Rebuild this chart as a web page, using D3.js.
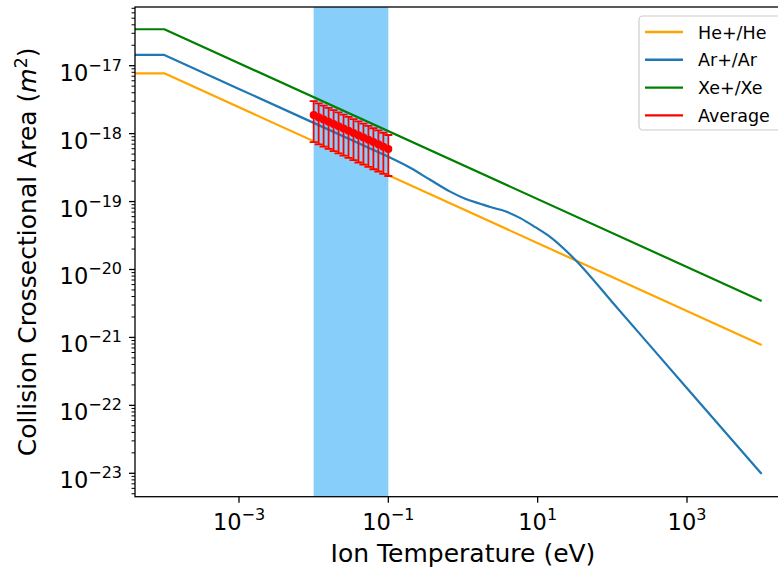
<!DOCTYPE html>
<html><head><meta charset="utf-8">
<script src="https://cdn.jsdelivr.net/npm/d3@7"></script>
<style>body{margin:0;background:#fff}svg{display:block}text{font-family:"DejaVu Sans",sans-serif}</style>
</head><body><svg id="c" width="778" height="573"></svg>
<script>
// ---- data ----
const heT     = [1e-5, 1e-4, 1e4];
const heSigma = [7.73e-18, 7.73e-18, 7.73e-22];
const xeT     = [1e-5, 1e-4, 1e4];
const xeSigma = [3.44e-17, 3.44e-17, 3.44e-21];
const arT     = [1e-5, 1e-4, 1e-3, 0.01, 0.05, 0.1, 0.196, 0.363, 0.673, 1.07, 1.70, 2.32, 3.68, 5.85, 9.29, 14.8, 23.4, 34, 100, 1000, 1e4];
const arSigma = [1.44e-17, 1.44e-17, 4.55e-18, 1.44e-18, 6.44e-19, 4.55e-19, 3.14e-19, 2.09e-19, 1.40e-19, 1.10e-19, 9.3e-20, 8.3e-20, 7.2e-20, 5.7e-20, 4.2e-20, 3.0e-20, 1.94e-20, 1.29e-20, 3.3e-21, 1.79e-22, 9.8e-24];
const avgT    = [0.01, 0.01166, 0.01359, 0.01585, 0.01848, 0.02154, 0.02512, 0.02929, 0.03415, 0.03981, 0.04642, 0.05412, 0.06310, 0.07356, 0.08577, 0.1];
const avgSigma= [1.884e-18, 1.745e-18, 1.616e-18, 1.496e-18, 1.386e-18, 1.284e-18, 1.189e-18, 1.101e-18, 1.020e-18, 0.944e-18, 0.875e-18, 0.810e-18, 0.750e-18, 0.695e-18, 0.643e-18, 0.596e-18];
const avgErr  = [1.133e-18, 1.049e-18, 0.972e-18, 0.900e-18, 0.833e-18, 0.772e-18, 0.715e-18, 0.662e-18, 0.613e-18, 0.568e-18, 0.526e-18, 0.487e-18, 0.451e-18, 0.418e-18, 0.387e-18, 0.358e-18];
const spanT   = [0.01, 0.1];
const xTicks  = [1e-3, 1e-1, 1e1, 1e3];
const xTickExp= ["−3", "−1", "1", "3"];
const yTicks  = [1e-17, 1e-18, 1e-19, 1e-20, 1e-21, 1e-22, 1e-23];
const yTickExp= ["−17", "−18", "−19", "−20", "−21", "−22", "−23"];
const seriesNames  = ["He+/He", "Ar+/Ar", "Xe+/Xe", "Average"];
const seriesColors = ["#ffa500", "#1f77b4", "#008000", "#ff0000"];

// ---- layout ----
const L = 135, R = 791, T = 7, B = 496.7;
const x = d3.scaleLog().domain([Math.pow(10, -4.3929), Math.pow(10, 4.3929)]).range([L, R]);
const y = d3.scaleLog().domain([Math.pow(10, -23.3445), Math.pow(10, -16.1359)]).range([B, T]);

const svg = d3.select("#c");
svg.append("defs").append("clipPath").attr("id", "clip")
  .append("rect").attr("x", L).attr("y", T).attr("width", R - L).attr("height", B - T);
const g = svg.append("g").attr("clip-path", "url(#clip)");

// shaded span
g.append("rect").attr("x", x(spanT[0])).attr("width", x(spanT[1]) - x(spanT[0]))
  .attr("y", T).attr("height", B - T).attr("fill", "#87cefa");

const lineLin = d3.line().x(d => x(d[0])).y(d => y(d[1])).curve(d3.curveLinear);
const lineSmooth = d3.line().x(d => x(d[0])).y(d => y(d[1])).curve(d3.curveMonotoneX);
const pts = (ts, ss) => ts.map((t, j) => [t, ss[j]]);

[[heT, heSigma, 0], [xeT, xeSigma, 2]].forEach(s => {
  g.append("path").attr("d", lineLin(pts(s[0], s[1]))).attr("fill", "none")
    .attr("stroke", seriesColors[s[2]]).attr("stroke-width", 2.2).attr("stroke-linejoin", "round");
});
// Ar: straight power-law part, then smooth shoulder/fall-off
const arPts = pts(arT, arSigma);
const kink = arT.indexOf(0.1);
const arD = lineLin(arPts.slice(0, kink + 1)) + lineSmooth(arPts.slice(kink)).replace(/^M/, "L");
g.append("path").attr("d", arD).attr("fill", "none").attr("stroke", seriesColors[1])
  .attr("stroke-width", 2.2).attr("stroke-linejoin", "round");

// error bars
const eb = g.append("g");
avgT.forEach((t, i) => {
  const cx = x(t), y1 = y(avgSigma[i] + avgErr[i]), y0 = y(avgSigma[i] - avgErr[i]);
  eb.append("line").attr("x1", cx).attr("x2", cx).attr("y1", y1).attr("y2", y0)
    .attr("stroke", seriesColors[3]).attr("stroke-width", 1.8);
  [y0, y1].forEach(yy => eb.append("line").attr("x1", cx - 4).attr("x2", cx + 4)
    .attr("y1", yy).attr("y2", yy).attr("stroke", seriesColors[3]).attr("stroke-width", 1.8));
});
avgT.forEach((t, i) => {
  eb.append("circle").attr("cx", x(t)).attr("cy", y(avgSigma[i])).attr("r", 4)
    .attr("fill", seriesColors[3]);
});

// spines
const ax = svg.append("g").attr("stroke", "#000").attr("stroke-width", 1.3).attr("fill", "none");
ax.append("rect").attr("x", L).attr("y", T).attr("width", R - L).attr("height", B - T);

// x ticks
xTicks.forEach((v, i) => {
  const px = x(v);
  svg.append("line").attr("x1", px).attr("x2", px).attr("y1", B).attr("y2", B + 6)
    .attr("stroke", "#000").attr("stroke-width", 1.3);
  const t = svg.append("text").attr("x", px).attr("y", B + 33).attr("text-anchor", "middle")
    .attr("font-size", 22.5).attr("fill", "#000");
  t.append("tspan").text("10");
  t.append("tspan").attr("dy", -10).attr("font-size", 16).text(xTickExp[i]);
});

// y ticks: major + minor
const [ylo, yhi] = y.domain();
for (let e = -24; e <= -16; e++) {
  for (let m = 1; m <= 9; m++) {
    const v = m * Math.pow(10, e);
    if (v < ylo || v > yhi) continue;
    const py = y(v);
    svg.append("line").attr("x1", L).attr("x2", L - (m === 1 ? 6 : 3.5)).attr("y1", py).attr("y2", py)
      .attr("stroke", "#000").attr("stroke-width", m === 1 ? 1.3 : 1);
  }
}
yTicks.forEach((v, i) => {
  const py = y(v);
  const t = svg.append("text").attr("x", 122).attr("y", py + 15).attr("text-anchor", "end")
    .attr("font-size", 22.5).attr("fill", "#000");
  t.append("tspan").text("10");
  t.append("tspan").attr("dy", -10).attr("font-size", 16).text(yTickExp[i]);
});

// axis labels
svg.append("text").attr("x", (L + R) / 2).attr("y", 562).attr("text-anchor", "middle")
  .attr("font-size", 25).text("Ion Temperature (eV)");
const yl = svg.append("text").attr("transform", `translate(36,${(T + B) / 2}) rotate(-90)`)
  .attr("text-anchor", "middle").attr("font-size", 25);
yl.append("tspan").text("Collision Crossectional Area (");
yl.append("tspan").attr("font-style", "italic").text("m");
yl.append("tspan").attr("dy", -9).attr("font-size", 17.5).text("2");
yl.append("tspan").attr("dy", 9).text(")");

// legend
const lg = svg.append("g");
lg.append("rect").attr("x", 639).attr("y", 16).attr("width", 146).attr("height", 114)
  .attr("rx", 4).attr("fill", "#fff").attr("fill-opacity", 0.8).attr("stroke", "#cccccc").attr("stroke-width", 1.2);
seriesNames.forEach((n, i) => {
  const cy = 32 + i * 27.8;
  lg.append("line").attr("x1", 645).attr("x2", 683).attr("y1", cy).attr("y2", cy)
    .attr("stroke", seriesColors[i]).attr("stroke-width", 2.4);
  lg.append("text").attr("x", 698).attr("y", cy + 6.5).attr("font-size", 17.5).attr("fill", "#000").text(n);
});
</script></body></html>
